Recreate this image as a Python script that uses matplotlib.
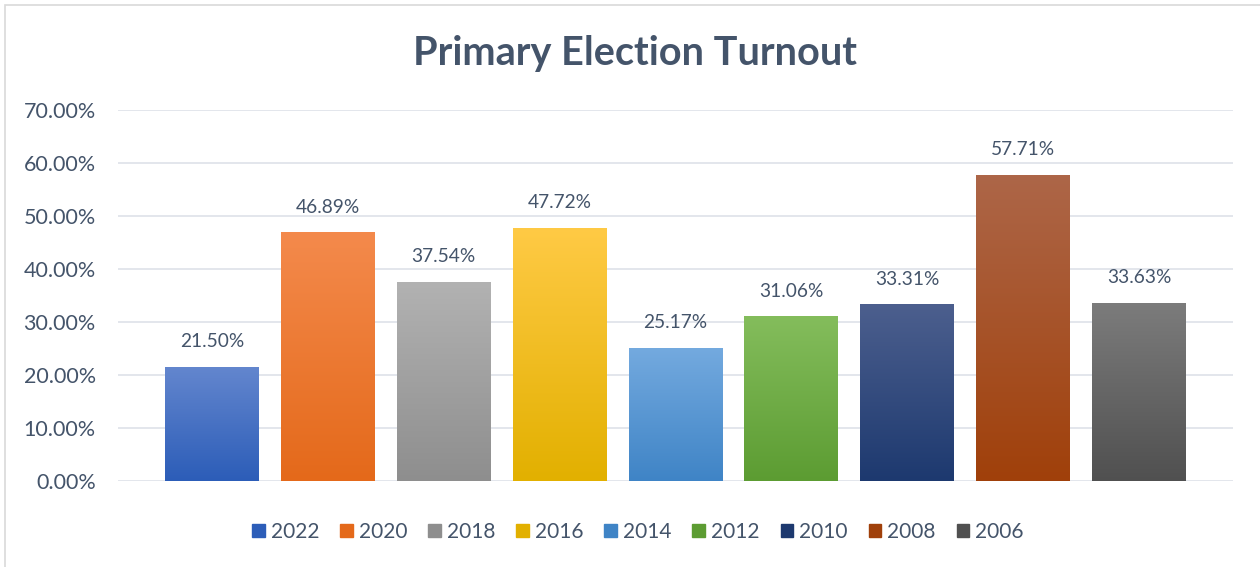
import matplotlib

matplotlib.use("Agg")
import matplotlib.pyplot as plt
import numpy as np
from matplotlib.colors import LinearSegmentedColormap
from matplotlib.patches import Rectangle
from matplotlib.ticker import FuncFormatter, MultipleLocator

years = ["2022", "2020", "2018", "2016", "2014", "2012", "2010", "2008", "2006"]
turnout = [0.2150, 0.4689, 0.3754, 0.4772, 0.2517, 0.3106, 0.3331, 0.5771, 0.3363]
# gradient (top, bottom) per bar, Excel-style fill
top_colors = ["#6386CE", "#F48A4C", "#B2B2B2", "#FFCA45", "#74AADF", "#84BD5C", "#4C5F8E", "#AD6648", "#7C7C7C"]
bottom_colors = ["#2C5DB8", "#E4691A", "#8E8E8E", "#E2B000", "#3F84C6", "#5C9C32", "#1D396F", "#A0400A", "#505050"]

TEXT = "#44546A"
GRID = "#E1E4EA"
plt.rcParams["font.family"] = ["Lato", "DejaVu Sans"]

fig = plt.figure(figsize=(12.6, 5.67), dpi=100)
ax = fig.add_axes([118 / 1260, 1 - 481 / 567, (1233 - 118) / 1260, (481 - 110) / 567])

x = np.arange(len(years))
bars = ax.bar(x, turnout, width=0.81, color=bottom_colors, zorder=2)

grad = np.linspace(0, 1, 256).reshape(-1, 1)
for bar, c_top, c_bot in zip(bars, top_colors, bottom_colors):
    cmap = LinearSegmentedColormap.from_list("g", [c_bot, c_top])
    x0, w, h = bar.get_x(), bar.get_width(), bar.get_height()
    im = ax.imshow(grad, cmap=cmap, origin="lower", aspect="auto",
                   extent=(x0, x0 + w, 0, h), zorder=3)
    im.set_clip_path(bar)

for xi, v in zip(x, turnout):
    ax.annotate(f"{v * 100:.2f}%", (xi, v), xytext=(0, 12), textcoords="offset points",
                ha="center", va="bottom", fontsize=13.8, color=TEXT)

ax.set_xlim(-0.81, 8.81)
ax.set_ylim(0, 0.70)
ax.yaxis.set_major_locator(MultipleLocator(0.10))
ax.yaxis.set_major_formatter(FuncFormatter(lambda v, _: f"{v * 100:.2f}%"))
ax.set_xticks([])
ax.grid(axis="y", color=GRID, linewidth=1.3, zorder=0)
ax.tick_params(axis="y", length=0, pad=16, labelsize=15.5, labelcolor=TEXT)
for s in ax.spines.values():
    s.set_visible(False)

fig.text(635 / 1260, 1 - 53 / 567, "Primary Election Turnout", ha="center", va="center",
         fontsize=28.5, fontweight="bold", color=TEXT)

handles = [Rectangle((0, 0), 1, 1, color=c) for c in bottom_colors]
fig.legend(handles, years, loc="center", bbox_to_anchor=(638 / 1260, 1 - 532 / 567), ncol=9,
           frameon=False, fontsize=15, labelcolor=TEXT, handlelength=0.6, handleheight=0.6,
           handletextpad=0.3, columnspacing=1.0)

fig.patches.append(Rectangle((5 / 1260, -0.1), 1.2, 1.1 - 5 / 567, transform=fig.transFigure,
                             fill=False, edgecolor="#D9D9D9", linewidth=1.2))

fig.savefig("out.png", dpi=100)
